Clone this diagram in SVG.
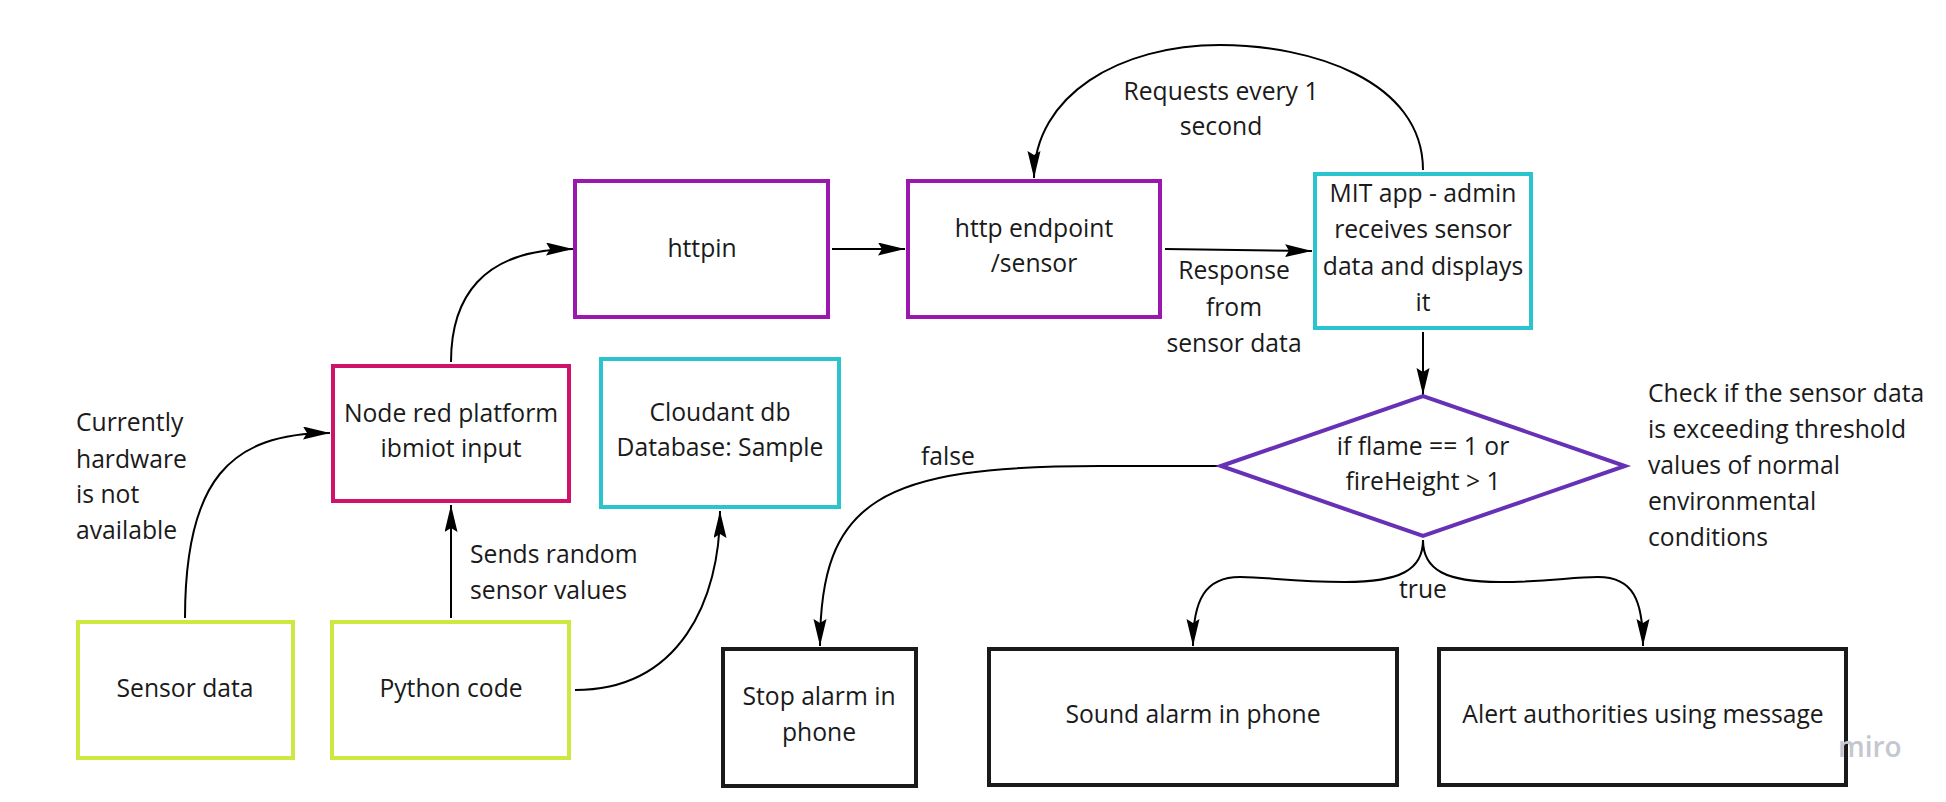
<svg xmlns="http://www.w3.org/2000/svg" width="1946" height="802" viewBox="0 0 1946 802">
<style>
  text { font-family: "Open Sans", "Liberation Sans", sans-serif; font-size: 24.7px; fill: #1a1a1a; }
  .c { text-anchor: middle; }
  .box { fill: #ffffff; stroke-width: 4; }
  .purple { stroke: #9a18ad; }
  .red { stroke: #d0136a; }
  .cyan { stroke: #2ac4cf; }
  .lime { stroke: #cee741; }
  .black { stroke: #1a1a1a; }
  .dia { fill: #ffffff; stroke: #6631b5; stroke-width: 4; stroke-linejoin: miter; }
  .conn { fill: none; stroke: #000000; stroke-width: 2; marker-end: url(#arrow); }
  .wm { font-size: 28px; fill: #c3c7cf; font-weight: 600; }
</style>
<defs>
  <marker id="arrow" markerUnits="userSpaceOnUse" markerWidth="28" markerHeight="14" refX="27" refY="6.5" orient="auto">
    <path d="M0,0 L27,6.5 L0,13 L4,6.5 Z" fill="#000000"/>
  </marker>
</defs>
<rect width="1946" height="802" fill="#ffffff"/>

<g id="connectors">
  <path class="conn" d="M185 618 C185 480 230 433 330 433"/>
  <path class="conn" d="M451 618 L451 505"/>
  <path class="conn" d="M575 690 C680 690 720 600 720 511"/>
  <path class="conn" d="M451 362 C451 300 480 249 573 249"/>
  <path class="conn" d="M832 249 L905 249"/>
  <path class="conn" d="M1165 249 L1312 251"/>
  <path class="conn" d="M1423 170 C1423 80 1310 45 1220 45 C1120 45 1034 95 1034 178"/>
  <path class="conn" d="M1423 332 L1423 395"/>
  <path class="conn" d="M1219 466 L1100 466 C880 466 820 500 820 646"/>
  <path class="conn" d="M1423 540 C1423 570 1400 582 1345 582 C1290 582 1270 577 1240 577 C1205 577 1193 600 1193 646"/>
  <path class="conn" d="M1423 540 C1423 570 1446 582 1500 582 C1550 582 1570 577 1598 577 C1633 577 1643 600 1643 646"/>
  <text class="c" x="1221" y="100">Requests every 1</text>
  <text class="c" x="1221" y="135">second</text>
  <text class="c" x="1234" y="279">Response</text>
  <text class="c" x="1234" y="316">from</text>
  <text class="c" x="1234" y="352">sensor data</text>
  <text x="76" y="431">Currently</text>
  <text x="76" y="468">hardware</text>
  <text x="76" y="503">is not</text>
  <text x="76" y="539">available</text>
  <text x="470" y="563">Sends random</text>
  <text x="470" y="599">sensor values</text>
  <text x="921" y="465">false</text>
  <text class="c" x="1423" y="598">true</text>
</g>

<g id="httpin">
  <rect class="box purple" x="575" y="181" width="253" height="136"/>
  <text class="c" x="702" y="257">httpin</text>
</g>
<g id="http-endpoint">
  <rect class="box purple" x="908" y="181" width="252" height="136"/>
  <text class="c" x="1034" y="237">http endpoint</text>
  <text class="c" x="1034" y="272">/sensor</text>
</g>
<g id="mit-app">
  <rect class="box cyan" x="1315" y="174" width="216" height="154"/>
  <text class="c" x="1423" y="202">MIT app - admin</text>
  <text class="c" x="1423" y="238">receives sensor</text>
  <text class="c" x="1423" y="275">data and displays</text>
  <text class="c" x="1423" y="311">it</text>
</g>
<g id="node-red">
  <rect class="box red" x="333" y="366" width="236" height="135"/>
  <text class="c" x="451" y="422">Node red platform</text>
  <text class="c" x="451" y="457">ibmiot input</text>
</g>
<g id="cloudant">
  <rect class="box cyan" x="601" y="359" width="238" height="148"/>
  <text class="c" x="720" y="421">Cloudant db</text>
  <text class="c" x="720" y="456">Database: Sample</text>
</g>
<g id="sensor-data">
  <rect class="box lime" x="78" y="622" width="215" height="136"/>
  <text class="c" x="185" y="697">Sensor data</text>
</g>
<g id="python-code">
  <rect class="box lime" x="332" y="622" width="237" height="136"/>
  <text class="c" x="451" y="697">Python code</text>
</g>
<g id="decision">
  <polygon class="dia" points="1221,466 1423,396 1625,466 1423,536"/>
  <text class="c" x="1423" y="455">if flame == 1 or</text>
  <text class="c" x="1423" y="490">fireHeight &gt; 1</text>
</g>
<g id="check-note">
  <text x="1648" y="402">Check if the sensor data</text>
  <text x="1648" y="438">is exceeding threshold</text>
  <text x="1648" y="474">values of normal</text>
  <text x="1648" y="510">environmental</text>
  <text x="1648" y="546">conditions</text>
</g>
<g id="stop-alarm">
  <rect class="box black" x="723" y="649" width="193" height="137"/>
  <text class="c" x="819" y="705">Stop alarm in</text>
  <text class="c" x="819" y="741">phone</text>
</g>
<g id="sound-alarm">
  <rect class="box black" x="989" y="649" width="408" height="136"/>
  <text class="c" x="1193" y="723">Sound alarm in phone</text>
</g>
<g id="alert">
  <rect class="box black" x="1439" y="649" width="407" height="136"/>
  <text class="c" x="1643" y="723">Alert authorities using message</text>
</g>
<text class="wm" x="1838" y="757">miro</text>
</svg>
